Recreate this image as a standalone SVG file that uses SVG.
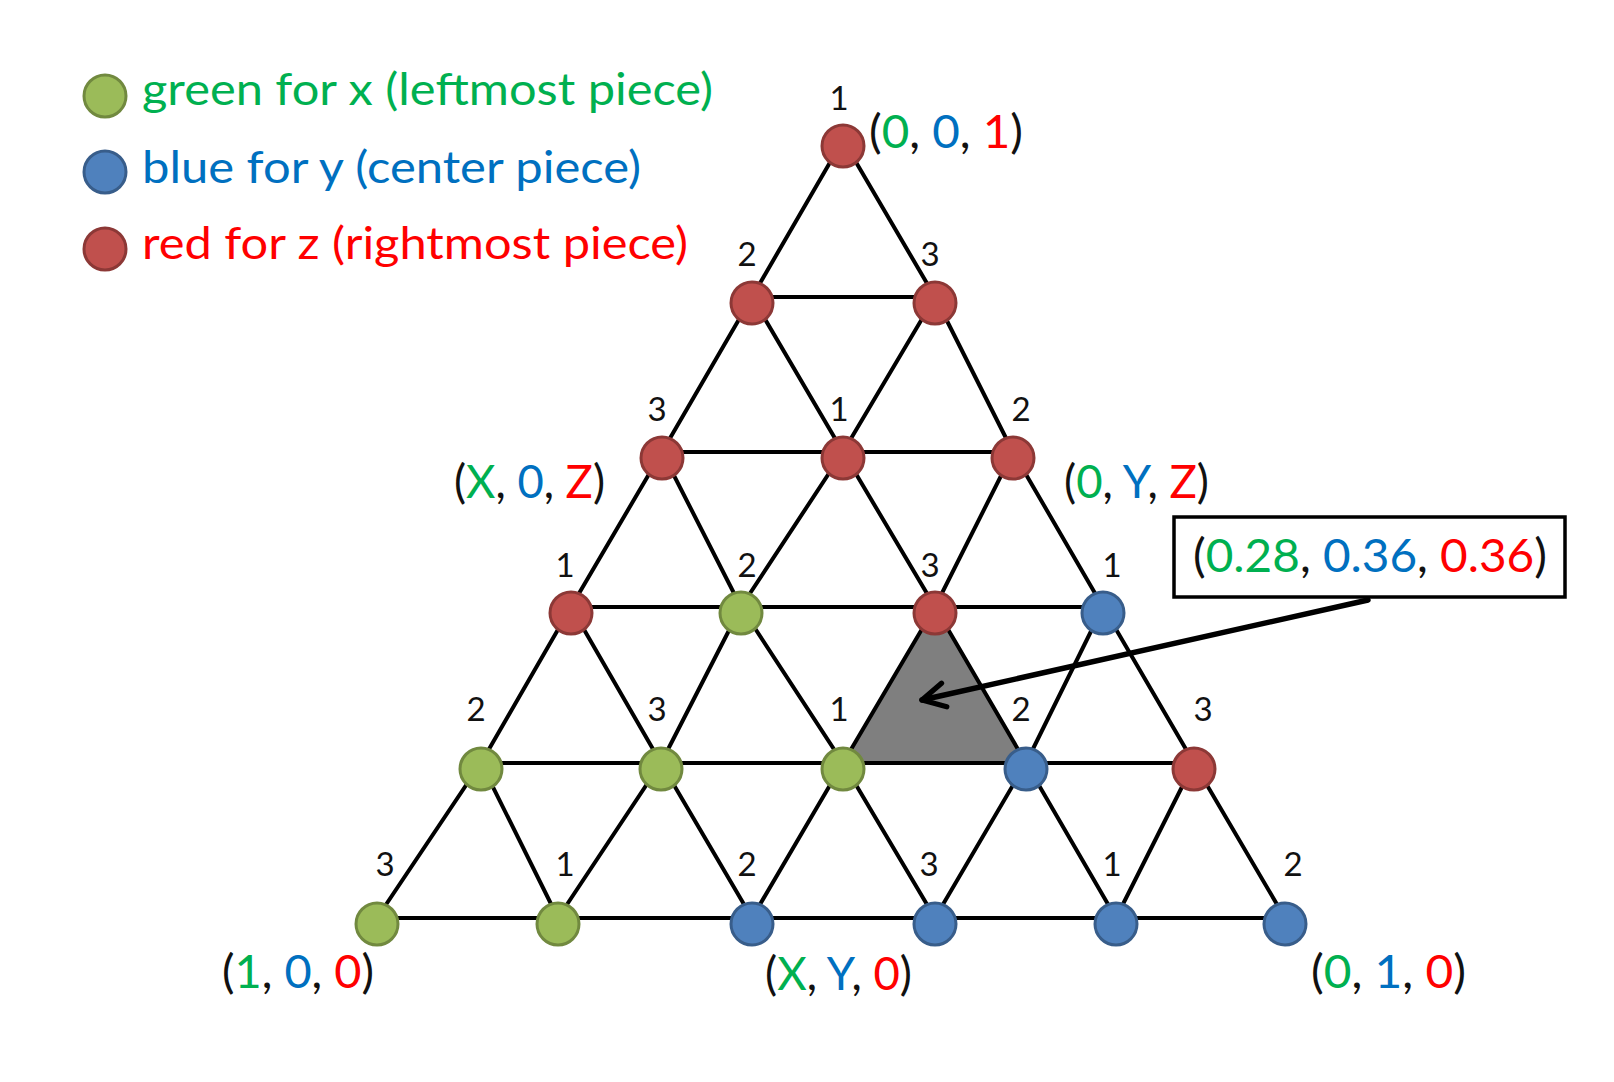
<svg xmlns="http://www.w3.org/2000/svg" width="1614" height="1082" viewBox="0 0 1614 1082">
<style>
.bg{fill:#ffffff}
.ln{stroke:#000;stroke-width:4;stroke-linecap:round;fill:none}
.g{fill:#9BBB59;stroke:#71893F;stroke-width:3}
.b{fill:#4F81BD;stroke:#385D8A;stroke-width:3}
.r{fill:#C0504D;stroke:#8C3836;stroke-width:3}
.num{font-family:Lato,"Liberation Sans",sans-serif;font-size:33px;fill:#111;text-anchor:middle}
.co{font-family:Lato,"Liberation Sans",sans-serif;font-size:46px;fill:#111}
.lg{font-family:Lato,"Liberation Sans",sans-serif;font-size:44px}
.tg{fill:#00B050}.tb{fill:#0070C0}.tr{fill:#FF0000}
</style>
<defs>
<marker id="ah" markerUnits="userSpaceOnUse" markerWidth="32" markerHeight="32" refX="21" refY="12" viewBox="0 0 24 24" orient="auto">
<path d="M4,3 L21,12 L4,21" fill="none" stroke="#000" stroke-width="4" stroke-linecap="round" stroke-linejoin="round"/>
</marker>
</defs>
<rect class="bg" x="0" y="0" width="1614" height="1082"/>

<g id="legend">
<g id="legend-green"><circle class="g" cx="105" cy="96" r="21"/><text class="lg tg" x="142" y="105" textLength="571" lengthAdjust="spacingAndGlyphs">green for x (leftmost piece)</text></g>
<g id="legend-blue"><circle class="b" cx="105" cy="172" r="21"/><text class="lg tb" x="142" y="183" textLength="499" lengthAdjust="spacingAndGlyphs">blue for y (center piece)</text></g>
<g id="legend-red"><circle class="r" cx="105" cy="249" r="21"/><text class="lg tr" x="142" y="259" textLength="546" lengthAdjust="spacingAndGlyphs">red for z (rightmost piece)</text></g>
</g>

<polygon id="highlight" points="935,607 843,763 1026,763" fill="#7F7F7F"/>

<g id="connectors" class="ln">
<line x1="752" y1="297" x2="935" y2="297"/>
<line x1="662" y1="452" x2="1013" y2="452"/>
<line x1="571" y1="607" x2="1103" y2="607"/>
<line x1="481" y1="763" x2="1194" y2="763"/>
<line x1="377" y1="918" x2="1285" y2="918"/>
<line x1="843" y1="140" x2="752" y2="297"/>
<line x1="843" y1="140" x2="935" y2="297"/>
<line x1="752" y1="297" x2="662" y2="452"/>
<line x1="752" y1="297" x2="843" y2="452"/>
<line x1="935" y1="297" x2="843" y2="452"/>
<line x1="935" y1="297" x2="1013" y2="452"/>
<line x1="662" y1="452" x2="571" y2="607"/>
<line x1="662" y1="452" x2="741" y2="607"/>
<line x1="843" y1="452" x2="741" y2="607"/>
<line x1="843" y1="452" x2="935" y2="607"/>
<line x1="1013" y1="452" x2="935" y2="607"/>
<line x1="1013" y1="452" x2="1103" y2="607"/>
<line x1="571" y1="607" x2="481" y2="763"/>
<line x1="571" y1="607" x2="661" y2="763"/>
<line x1="741" y1="607" x2="661" y2="763"/>
<line x1="741" y1="607" x2="843" y2="763"/>
<line x1="935" y1="607" x2="843" y2="763"/>
<line x1="935" y1="607" x2="1026" y2="763"/>
<line x1="1103" y1="607" x2="1026" y2="763"/>
<line x1="1103" y1="607" x2="1194" y2="763"/>
<line x1="481" y1="763" x2="377" y2="918"/>
<line x1="481" y1="763" x2="558" y2="918"/>
<line x1="661" y1="763" x2="558" y2="918"/>
<line x1="661" y1="763" x2="752" y2="918"/>
<line x1="843" y1="763" x2="752" y2="918"/>
<line x1="843" y1="763" x2="935" y2="918"/>
<line x1="1026" y1="763" x2="935" y2="918"/>
<line x1="1026" y1="763" x2="1116" y2="918"/>
<line x1="1194" y1="763" x2="1116" y2="918"/>
<line x1="1194" y1="763" x2="1285" y2="918"/>
<line id="pointer" x1="1368" y1="600" x2="922" y2="700" stroke-width="5.5" marker-end="url(#ah)"/>
</g>

<g id="nodes">
<g id="n1"><circle class="r" cx="843" cy="146" r="21"/><text class="num" x="839" y="110">1</text></g>
<g id="n2"><circle class="r" cx="752" cy="303" r="21"/><text class="num" x="747" y="266">2</text></g>
<g id="n3"><circle class="r" cx="935" cy="303" r="21"/><text class="num" x="930" y="266">3</text></g>
<g id="n4"><circle class="r" cx="662" cy="458" r="21"/><text class="num" x="657" y="421">3</text></g>
<g id="n5"><circle class="r" cx="843" cy="458" r="21"/><text class="num" x="839" y="421">1</text></g>
<g id="n6"><circle class="r" cx="1013" cy="458" r="21"/><text class="num" x="1021" y="421">2</text></g>
<g id="n7"><circle class="r" cx="571" cy="613" r="21"/><text class="num" x="565" y="577">1</text></g>
<g id="n8"><circle class="g" cx="741" cy="613" r="21"/><text class="num" x="747" y="577">2</text></g>
<g id="n9"><circle class="r" cx="935" cy="613" r="21"/><text class="num" x="930" y="577">3</text></g>
<g id="n10"><circle class="b" cx="1103" cy="613" r="21"/><text class="num" x="1112" y="577">1</text></g>
<g id="n11"><circle class="g" cx="481" cy="769" r="21"/><text class="num" x="476" y="721">2</text></g>
<g id="n12"><circle class="g" cx="661" cy="769" r="21"/><text class="num" x="657" y="721">3</text></g>
<g id="n13"><circle class="g" cx="843" cy="769" r="21"/><text class="num" x="839" y="721">1</text></g>
<g id="n14"><circle class="b" cx="1026" cy="769" r="21"/><text class="num" x="1021" y="721">2</text></g>
<g id="n15"><circle class="r" cx="1194" cy="769" r="21"/><text class="num" x="1203" y="721">3</text></g>
<g id="n16"><circle class="g" cx="377" cy="924" r="21"/><text class="num" x="385" y="876">3</text></g>
<g id="n17"><circle class="g" cx="558" cy="924" r="21"/><text class="num" x="565" y="876">1</text></g>
<g id="n18"><circle class="b" cx="752" cy="924" r="21"/><text class="num" x="747" y="876">2</text></g>
<g id="n19"><circle class="b" cx="935" cy="924" r="21"/><text class="num" x="929" y="876">3</text></g>
<g id="n20"><circle class="b" cx="1116" cy="924" r="21"/><text class="num" x="1112" y="876">1</text></g>
<g id="n21"><circle class="b" cx="1285" cy="924" r="21"/><text class="num" x="1293" y="876">2</text></g>
</g>

<g id="coordinates">
<text class="co" x="869" y="148" textLength="154" lengthAdjust="spacingAndGlyphs">(<tspan class="tg">0</tspan>, <tspan class="tb">0</tspan>, <tspan class="tr">1</tspan>)</text>
<text class="co" x="454" y="498" textLength="151" lengthAdjust="spacingAndGlyphs">(<tspan class="tg">X</tspan>, <tspan class="tb">0</tspan>, <tspan class="tr">Z</tspan>)</text>
<text class="co" x="1064" y="498" textLength="145" lengthAdjust="spacingAndGlyphs">(<tspan class="tg">0</tspan>, <tspan class="tb">Y</tspan>, <tspan class="tr">Z</tspan>)</text>
<text class="co" x="222" y="988" textLength="152" lengthAdjust="spacingAndGlyphs">(<tspan class="tg">1</tspan>, <tspan class="tb">0</tspan>, <tspan class="tr">0</tspan>)</text>
<text class="co" x="765" y="990" textLength="147" lengthAdjust="spacingAndGlyphs">(<tspan class="tg">X</tspan>, <tspan class="tb">Y</tspan>, <tspan class="tr">0</tspan>)</text>
<text class="co" x="1311" y="988" textLength="155" lengthAdjust="spacingAndGlyphs">(<tspan class="tg">0</tspan>, <tspan class="tb">1</tspan>, <tspan class="tr">0</tspan>)</text>
</g>

<g id="callout">
<rect x="1174" y="517" width="391" height="80" fill="#fff" stroke="#000" stroke-width="3.5"/>
<text class="co" x="1193" y="572" textLength="354" lengthAdjust="spacingAndGlyphs">(<tspan class="tg">0.28</tspan>, <tspan class="tb">0.36</tspan>, <tspan class="tr">0.36</tspan>)</text>
</g>
</svg>
